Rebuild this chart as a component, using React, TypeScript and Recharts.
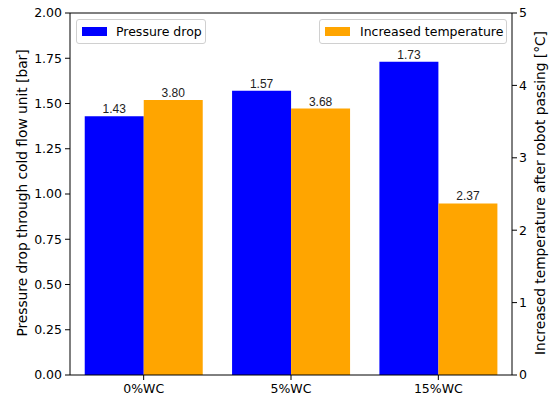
import React from "react";
import {
  BarChart, Bar, XAxis, YAxis, ReferenceLine, LabelList,
} from "recharts";

const categories = ["0%WC", "5%WC", "15%WC"];
const pressureDrop = [1.43, 1.57, 1.73];
const tempRise = [3.8, 3.68, 2.37];
const leftTicks = [0, 0.25, 0.5, 0.75, 1, 1.25, 1.5, 1.75, 2];
const rightTicks = [0, 1, 2, 3, 4, 5];

const data = categories.map((name, i) => ({
  name,
  pressure: pressureDrop[i],
  temp: tempRise[i],
}));

const FONT = "'DejaVu Sans', sans-serif";
const tickStyle = { fontSize: 12.5, fill: "#000", fontFamily: FONT };
const labelStyle = { fontSize: 12, fill: "#222", fontFamily: "'Liberation Sans', Arial, sans-serif" };

const legendBox: React.CSSProperties = {
  position: "absolute",
  height: 25,
  border: "1px solid #d0d0d0",
  borderRadius: 3,
  background: "rgba(255,255,255,0.8)",
  boxSizing: "border-box",
  display: "flex",
  alignItems: "center",
  fontFamily: FONT,
  fontSize: 12.5,
  color: "#000",
};

const axisLabel: React.CSSProperties = {
  position: "absolute",
  top: 193,
  transform: "translate(-50%, -50%) rotate(-90deg)",
  whiteSpace: "nowrap",
  fontFamily: FONT,
  fontSize: 13.75,
  color: "#000",
};

const App: React.FC = () => (
  <div style={{ position: "absolute", left: 0, top: 0, width: 552, height: 398, background: "#fff" }}>
    <BarChart
      width={552}
      height={398}
      data={data}
      margin={{ top: 13, right: 10, bottom: 0, left: 15 }}
      barCategoryGap="10%"
      barGap={0}
    >
      <XAxis
        dataKey="name"
        height={23}
        tick={tickStyle}
        tickSize={5}
        tickMargin={4}
        stroke="#000"
        tickLine={{ stroke: "#000" }}
      />
      <YAxis
        yAxisId="left"
        width={55}
        domain={[0, 2]}
        ticks={leftTicks}
        tickFormatter={(v: number) => v.toFixed(2)}
        tick={tickStyle}
        tickSize={5}
        tickMargin={3}
        stroke="#000"
        interval={0}
      />
      <YAxis
        yAxisId="right"
        orientation="right"
        width={30}
        domain={[0, 5]}
        ticks={rightTicks}
        tick={tickStyle}
        tickSize={5}
        tickMargin={2}
        stroke="#000"
        interval={0}
      />
      <ReferenceLine yAxisId="left" y={2} stroke="#000" ifOverflow="extendDomain" />
      <Bar yAxisId="left" dataKey="pressure" fill="#0000ff" isAnimationActive={false}>
        <LabelList dataKey="pressure" position="top" offset={3} style={labelStyle}
          formatter={(v: number) => v.toFixed(2)} />
      </Bar>
      <Bar yAxisId="right" dataKey="temp" fill="#ffa500" isAnimationActive={false}>
        <LabelList dataKey="temp" position="top" offset={3} style={labelStyle}
          formatter={(v: number) => v.toFixed(2)} />
      </Bar>
    </BarChart>

    <div style={{ ...legendBox, left: 76, top: 19, width: 130 }}>
      <span style={{ display: "inline-block", width: 25, height: 9, background: "#0000ff", marginLeft: 5, marginRight: 9 }} />
      Pressure drop
    </div>
    <div style={{ ...legendBox, left: 319, top: 19, width: 188 }}>
      <span style={{ display: "inline-block", width: 25, height: 9, background: "#ffa500", marginLeft: 5, marginRight: 10 }} />
      Increased temperature
    </div>

    <div style={{ ...axisLabel, left: 22 }}>
      Pressure drop through cold flow unit [bar]
    </div>
    <div style={{ ...axisLabel, left: 540 }}>
      Increased temperature after robot passing [°C]
    </div>
  </div>
);

export default App;
